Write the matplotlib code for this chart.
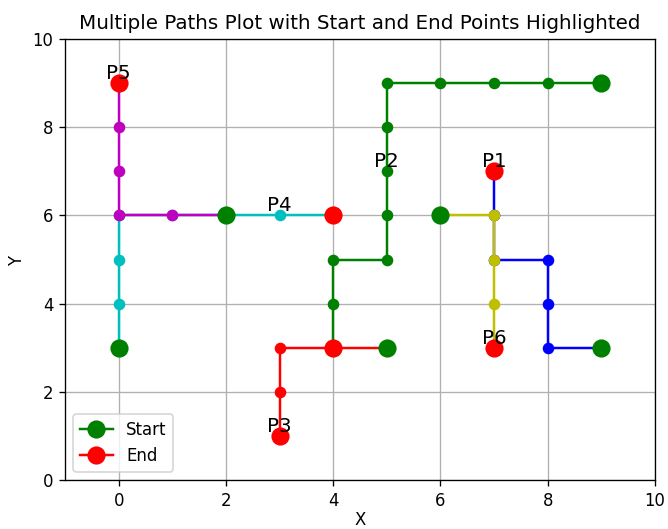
import numpy as np
import matplotlib
matplotlib.use('Agg')
import matplotlib.pyplot as plt

names = ['P1', 'P2', 'P3', 'P4', 'P5', 'P6']
colors = ['b', 'g', 'r', 'c', 'm', 'y']

p1_x = [9, 8, 8, 8, 7, 7, 7]
p1_y = [3, 3, 4, 5, 5, 6, 7]
p2_x = [9, 8, 7, 6, 5, 5, 5, 5, 5, 4, 4, 4]
p2_y = [9, 9, 9, 9, 9, 8, 7, 6, 5, 5, 4, 3]
p3_x = [5, 4, 3, 3, 3]
p3_y = [3, 3, 3, 2, 1]
p4_x = [0, 0, 0, 0, 1, 2, 3, 4]
p4_y = [3, 4, 5, 6, 6, 6, 6, 6]
p5_x = [2, 1, 0, 0, 0, 0]
p5_y = [6, 6, 6, 7, 8, 9]
p6_x = [6, 7, 7, 7, 7]
p6_y = [6, 6, 5, 4, 3]

paths_x = [p1_x, p2_x, p3_x, p4_x, p5_x, p6_x]
paths_y = [p1_y, p2_y, p3_y, p4_y, p5_y, p6_y]

# where each path name is written
label_x = [7, 5, 3, 3, 0, 7]
label_y = [7, 7, 1, 6, 9, 3]

dpi = 119
fig = plt.figure(figsize=(668.0 / dpi, 529.0 / dpi), dpi=dpi)
plt.subplots_adjust(left=0.0973, right=0.9805, top=0.926, bottom=0.0926)

for i in range(len(names)):
	xs = paths_x[i]
	ys = paths_y[i]
	plt.plot(xs, ys, 'o-', color=colors[i], markersize=6)
	plt.plot(xs[0], ys[0], 'go-', markersize=10,
	         label='Start' if i == 0 else None)
	plt.plot(xs[-1], ys[-1], 'ro-', markersize=10,
	         label='End' if i == 0 else None)
	plt.text(label_x[i], label_y[i], names[i], fontsize=12,
	         ha='center', va='bottom')

plt.xlim(-1, 10)
plt.ylim(0, 10)
plt.xlabel('X', labelpad=1)
plt.ylabel('Y')
plt.title('Multiple Paths Plot with Start and End Points Highlighted')
plt.grid(True)
plt.legend(loc='lower left')
plt.savefig('out.png', dpi=dpi)
